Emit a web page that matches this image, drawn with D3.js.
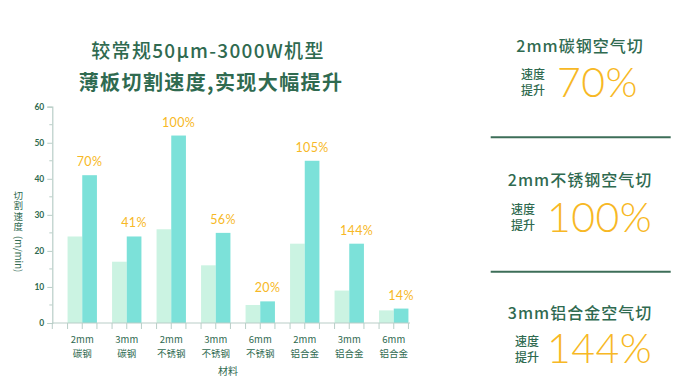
<!DOCTYPE html>
<html>
<head>
<meta charset="utf-8">
<script src="https://cdn.jsdelivr.net/npm/d3@7"></script>
<style>
  body { margin: 0; background: #fff; }
  svg { display: block; font-family: "Noto Sans CJK SC", "Noto Sans", sans-serif; }
</style>
</head>
<body>
<div id="chart"></div>
<script>
// data
var sizes = ["2mm", "3mm", "2mm", "3mm", "6mm", "2mm", "3mm", "6mm"];
var materials = ["碳钢", "碳钢", "不锈钢", "不锈钢", "不锈钢", "铝合金", "铝合金", "铝合金"];
var oldSpeed = [24, 17, 26, 16, 5, 22, 9, 3.5];
var newSpeed = [41, 24, 52, 25, 6, 45, 22, 4];
var gainLabels = ["70%", "41%", "100%", "56%", "20%", "105%", "144%", "14%"];
var yTicks = [0, 10, 20, 30, 40, 50, 60];

var highlightTitles = ["2mm碳钢空气切", "2mm不锈钢空气切", "3mm铝合金空气切"];
var highlightGains = ["70%", "100%", "144%"];

var green = "#2f6a50", orange = "#f7b825", axisColor = "#b9cec7";
var lightBar = "#cbf3e2", darkBar = "#7ce1d9";

var W = 690, H = 387;
var svg = d3.select("#chart").append("svg")
  .attr("width", W).attr("height", H);

// titles
svg.append("text").attr("x", 208).attr("y", 58)
  .attr("text-anchor", "middle").attr("fill", green)
  .style("font-size", "19px").style("font-weight", 500)
  .style("letter-spacing", "1.3px")
  .text("较常规50μm-3000W机型");
svg.append("text").attr("x", 211).attr("y", 90)
  .attr("text-anchor", "middle").attr("fill", green)
  .style("font-size", "20px").style("font-weight", 700)
  .style("letter-spacing", "1.4px")
  .text("薄板切割速度,实现大幅提升");

// scales
var cats = sizes.map(function(d, i) { return i; });
var x0 = d3.scaleBand().domain(cats).range([60, 416])
  .paddingInner(0.34).paddingOuter(0.17);
var x1 = d3.scaleBand().domain(["old", "new"]).range([0, x0.bandwidth()]);
var y = d3.scaleLinear().domain([0, 60]).range([323, 106.7]);

var axisX0 = 52.3, axisX1 = 410;

// y axis
var yAxis = svg.append("g")
  .attr("transform", "translate(" + axisX0 + ",0)")
  .call(d3.axisLeft(y).tickValues(yTicks).tickSize(5).tickPadding(3));
yAxis.select(".domain").attr("stroke", axisColor).attr("stroke-width", 1.2);
yAxis.selectAll(".tick line").attr("stroke", axisColor);
yAxis.selectAll(".tick text")
  .attr("fill", green).style("font-size", "8.5px").style("font-weight", 700)
  .style("font-family", "Lato, 'Noto Sans', sans-serif");
// minor ticks
yAxis.selectAll(".minor").data(d3.range(5, 60, 10)).enter()
  .append("line").attr("class", "minor")
  .attr("x1", -3).attr("x2", 0)
  .attr("y1", function(d) { return y(d); }).attr("y2", function(d) { return y(d); })
  .attr("stroke", axisColor);

// y axis title: upright CJK (vertical writing), rotated unit
svg.append("text")
  .attr("x", 18.3).attr("y", 191)
  .attr("fill", green)
  .style("writing-mode", "vertical-rl")
  .style("text-orientation", "upright")
  .style("font-size", "9.5px")
  .style("letter-spacing", "0.6px")
  .text("切割速度");
svg.append("text")
  .attr("transform", "translate(15,236) rotate(90)")
  .attr("fill", green)
  .style("font-size", "9.5px")
  .text("(m/min)");

// bars
var groups = svg.selectAll(".grp").data(cats).enter().append("g")
  .attr("transform", function(i) { return "translate(" + x0(i) + ",0)"; });
groups.append("rect")
  .attr("x", x1("old")).attr("width", x1.bandwidth())
  .attr("y", function(i) { return y(oldSpeed[i]); })
  .attr("height", function(i) { return y(0) - y(oldSpeed[i]); })
  .attr("fill", lightBar);
groups.append("rect")
  .attr("x", x1("new")).attr("width", x1.bandwidth())
  .attr("y", function(i) { return y(newSpeed[i]); })
  .attr("height", function(i) { return y(0) - y(newSpeed[i]); })
  .attr("fill", darkBar);
groups.append("text")
  .attr("x", x1("new") + x1.bandwidth() / 2)
  .attr("y", function(i) { return y(newSpeed[i]) - 9; })
  .attr("text-anchor", "middle").attr("fill", orange)
  .style("font-size", "12.5px").style("letter-spacing", "0.4px")
  .style("font-family", "Lato, 'Noto Sans', sans-serif")
  .text(function(i) { return gainLabels[i]; });

// x axis
svg.append("line").attr("x1", axisX0).attr("x2", axisX1)
  .attr("y1", y(0)).attr("y2", y(0))
  .attr("stroke", axisColor).attr("stroke-width", 1.2);
var tickXs = [axisX0];
cats.forEach(function(i) {
  tickXs.push(x0(i), x0(i) + x0.bandwidth() / 2, x0(i) + x0.bandwidth());
});
svg.selectAll(".xtick").data(tickXs).enter().append("line")
  .attr("x1", function(d) { return d; }).attr("x2", function(d) { return d; })
  .attr("y1", y(0)).attr("y2", y(0) + 6)
  .attr("stroke", axisColor);

svg.selectAll(".xsize").data(cats).enter().append("text")
  .attr("x", function(i) { return x0(i) + x0.bandwidth() / 2; })
  .attr("y", 343.3)
  .attr("text-anchor", "middle").attr("fill", green)
  .style("font-size", "9.5px")
  .text(function(i) { return sizes[i]; });
svg.selectAll(".xmat").data(cats).enter().append("text")
  .attr("x", function(i) { return x0(i) + x0.bandwidth() / 2; })
  .attr("y", 356.5)
  .attr("text-anchor", "middle").attr("fill", green)
  .style("font-size", "9.5px")
  .text(function(i) { return materials[i]; });

svg.append("text").attr("x", 228).attr("y", 374.5)
  .attr("text-anchor", "middle").attr("fill", green)
  .style("font-size", "10px").text("材料");

// right panel
var blocks = [
  { ty: 52, sy: 75, gy: 97, sx: 533, gx: 557 },
  { ty: 186, sy: 210, gy: 232, sx: 523, gx: 547 },
  { ty: 319, sy: 342, gy: 363, sx: 527, gx: 547 }
];
blocks.forEach(function(b, i) {
  svg.append("text").attr("x", 580).attr("y", b.ty)
    .attr("text-anchor", "middle").attr("fill", green)
    .style("font-size", "16px").style("font-weight", 500)
    .style("letter-spacing", "1px")
    .text(highlightTitles[i]);
  svg.append("text").attr("x", b.sx).attr("y", b.sy + 4)
    .attr("text-anchor", "middle").attr("fill", green)
    .style("font-size", "12px").style("font-weight", 500).text("速度");
  svg.append("text").attr("x", b.sx).attr("y", b.sy + 20)
    .attr("text-anchor", "middle").attr("fill", green)
    .style("font-size", "12px").style("font-weight", 500).text("提升");
  svg.append("text").attr("x", b.gx).attr("y", b.gy)
    .attr("fill", orange)
    .style("font-size", "41px").style("font-weight", 300)
    .style("letter-spacing", "0.5px")
    .style("font-family", "Lato, 'Noto Sans', sans-serif")
    .text(highlightGains[i]);
});
[137.3, 271.7].forEach(function(ly) {
  svg.append("line").attr("x1", 490.7).attr("x2", 670.7)
    .attr("y1", ly).attr("y2", ly)
    .attr("stroke", "#3d6e58").attr("stroke-width", 2);
});
</script>
</body>
</html>
